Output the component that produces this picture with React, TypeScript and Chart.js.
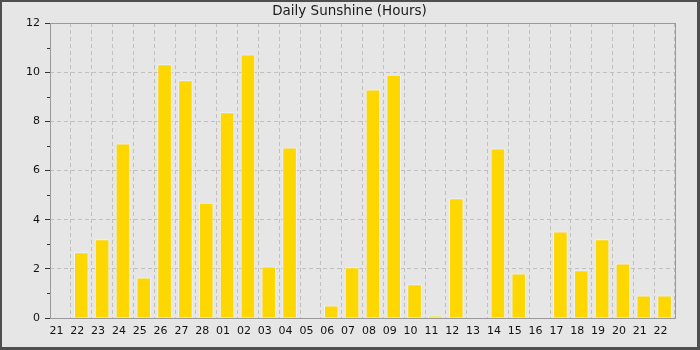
import React, { useEffect, useRef } from "react";
import { Chart, registerables } from "chart.js";

Chart.register(...registerables);

const TITLE = "Daily Sunshine (Hours)";
const DAYS = [
  "21", "22", "23", "24", "25", "26", "27", "28",
  "01", "02", "03", "04", "05", "06", "07", "08", "09", "10",
  "11", "12", "13", "14", "15", "16", "17", "18", "19", "20", "21", "22",
];
const SUNSHINE = [
  0, 2.67, 3.2, 7.1, 1.65, 10.32, 9.67, 4.69,
  8.37, 10.72, 2.1, 6.94, 0, 0.51, 2.06, 9.3, 9.9, 1.37,
  0.1, 4.87, 0, 6.9, 1.81, 0, 3.52, 1.94, 3.2, 2.22, 0.92, 0.92,
];
const Y_MIN = 0;
const Y_MAX = 12;
const Y_MAJOR_STEP = 2;
const Y_MINOR_VALUES = [1, 3, 5, 7, 9, 11];

const FONT = "'DejaVu Sans', 'Liberation Sans', sans-serif";

const framePlugin = {
  id: "frameAndMinorTicks",
  afterDatasetsDraw(chart: any) {
    const { ctx, chartArea } = chart;
    const y = chart.scales.y;
    ctx.save();
    ctx.setLineDash([]);
    ctx.strokeStyle = "#9a9a9a";
    ctx.lineWidth = 1;
    ctx.strokeRect(
      Math.round(chartArea.left) + 0.5,
      Math.round(chartArea.top) + 0.5,
      Math.round(chartArea.right - chartArea.left),
      Math.round(chartArea.bottom - chartArea.top)
    );
    ctx.strokeStyle = "#333";
    for (const v of Y_MINOR_VALUES) {
      const py = Math.round(y.getPixelForValue(v)) + 0.5;
      ctx.beginPath();
      ctx.moveTo(chartArea.left - 3, py);
      ctx.lineTo(chartArea.left, py);
      ctx.stroke();
    }
    ctx.restore();
  },
};

export default function App() {
  const ref = useRef<HTMLCanvasElement | null>(null);

  useEffect(() => {
    document.body.style.margin = "0";
    const canvas = ref.current!;
    const chart = new Chart(canvas, {
      type: "bar",
      data: {
        labels: DAYS,
        datasets: [
          {
            data: SUNSHINE,
            backgroundColor: "#FFD700",
            borderColor: "#eef3fb",
            borderWidth: 1,
            barPercentage: 0.7,
            categoryPercentage: 1,
          },
        ],
      },
      options: {
        responsive: false,
        animation: false,
        devicePixelRatio: 1,
        layout: { padding: { left: 0, right: 0, top: 0, bottom: 0 } },
        plugins: {
          legend: { display: false },
          tooltip: { enabled: false },
          title: {
            display: true,
            text: TITLE,
            color: "#1a1a1a",
            font: { family: FONT, size: 13.5, weight: "normal" },
            padding: { top: 1, bottom: 3.8 },
          },
        },
        scales: {
          x: {
            offset: true,
            grid: {
              offset: true,
              color: "#c0c0c0",
              lineWidth: 1,
              drawTicks: false,
            },
            border: { display: false, dash: [4, 3] },
            ticks: {
              color: "#111",
              font: { family: FONT, size: 11 },
              padding: 7,
              labelOffset: -4,
              maxRotation: 0,
              autoSkip: false,
            },
            afterFit(scale: any) {
              scale.height = 29;
            },
          },
          y: {
            min: Y_MIN,
            max: Y_MAX,
            grid: {
              color: (c: any) =>
                c.tick && (c.tick.value === Y_MIN || c.tick.value === Y_MAX)
                  ? "rgba(0,0,0,0)"
                  : "#c0c0c0",
              tickColor: "#333",
              tickLength: 5,
              drawTicks: true,
            },
            border: { display: false, dash: [4, 3] },
            ticks: {
              stepSize: Y_MAJOR_STEP,
              color: "#111",
              font: { family: FONT, size: 11 },
              padding: 5,
            },
            afterFit(scale: any) {
              scale.width = 48;
            },
          },
          yRight: {
            position: "right",
            display: true,
            min: Y_MIN,
            max: Y_MAX,
            grid: { display: false, drawTicks: false },
            border: { display: false },
            ticks: { display: false },
            afterFit(scale: any) {
              scale.width = 22;
            },
          },
        },
      },
      plugins: [framePlugin],
    });
    return () => chart.destroy();
  }, []);

  return (
    <div
      style={{
        position: "absolute",
        left: 0,
        top: 0,
        width: 700,
        height: 350,
        boxSizing: "border-box",
        borderStyle: "solid",
        borderColor: "#4f4f4f",
        borderWidth: "2px 3px 3px 2px",
        background: "#e6e6e6",
      }}
    >
      <canvas ref={ref} width={695} height={345} style={{ display: "block" }} />
    </div>
  );
}
